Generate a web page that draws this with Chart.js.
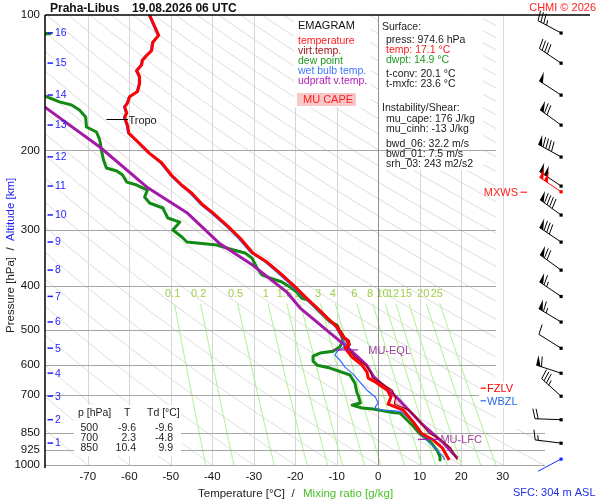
<!DOCTYPE html>
<html><head><meta charset="utf-8">
<script src="https://cdn.jsdelivr.net/npm/chart.js@4"></script>
<style>html,body{margin:0;padding:0;background:#fff;overflow:hidden}canvas{display:block}</style>
</head><body>
<canvas id="c" width="600" height="500"></canvas>
<script>
// ---------- DATA ----------
const station = 'Praha-Libus';
const runTime = '19.08.2026 06 UTC';
const xTicks = [-70,-60,-50,-40,-30,-20,-10,0,10,20,30];
const yTicks = [100,200,300,400,500,600,700,850,925,1000];
const isotherms = [-70,-60,-50,-40,-30,-20,-10,10,20,30];
const mixRatios = [0.1,0.2,0.5,1,1.5,2,3,4,6,8,10,12,15,20,25];
const kmH = [1,2,3,4,5,6,7,8,9,10,11,12,13,14,15,16];
const kmP = [894,793,703,625,550,481,422,368.8,319.5,278.2,239.9,206.7,175.6,150.6,127.9,109.6];

const tempP = [100,111,115,120,123,126,129,133,137,142,148,152,157,160,165,169,176,183,193,203,213,227,239,249,264,275,296,313,338,354,374,402,423,448,471,494,500,520,528,541,550,576,600,622,641,654,682,706,732,743,755,803,850,880,917,960,975];
const tempT = [-55.1,-52.9,-54.3,-54.6,-55.8,-56.8,-57.0,-58.2,-57.5,-57.5,-58.0,-59.9,-60.4,-61.1,-60.6,-61.1,-60.4,-60.1,-57.5,-55.1,-52.2,-49.8,-47.3,-44.9,-42.3,-39.9,-36.0,-33.3,-30.2,-26.8,-23.7,-20.0,-17.6,-14.7,-12.3,-9.9,-9.6,-8.5,-7.5,-7.2,-8.0,-6.3,-3.9,-2.7,-2.4,-0.7,2.2,3.1,2.4,4.1,6.0,8.5,10.4,13.3,15.5,16.7,17.1];
const virtT = [-55.1,-52.9,-54.3,-54.6,-55.8,-56.8,-57.0,-58.2,-57.5,-57.5,-58.0,-59.9,-60.4,-61.1,-60.6,-61.1,-60.4,-60.1,-57.5,-55.1,-52.2,-49.8,-47.3,-44.9,-42.3,-39.9,-36.0,-33.3,-30.2,-26.8,-23.7,-19.8,-17.4,-14.5,-12.0,-9.5,-9.2,-8.0,-7.0,-6.7,-7.4,-5.6,-3.0,-1.8,-1.4,0.4,3.4,4.2,3.9,5.6,7.5,10.2,12.2,15.2,17.5,18.7,19.1];

const dewP = [100,108,110,112,148,156,158.5,162.6,168.5,177.4,182,189.6,199.5,210,218.8,222.2,226.8,235.1,238.7,244.9,253.8,261.7,268.5,282.6,288.5,300.5,311.4,319.5,324.5,332,338,347,365,378,384,392,402,413,426,430,446,464,481,489,500,506,528,546,559,564,573,588,600,609,631,658,692,700,728,736,747,751,763,767,787,815,850,889,927,960,975];
const dewT = [-90,-90,-79,-90,-83,-76.8,-73.9,-72.0,-70.5,-70.3,-67.9,-67.1,-66.7,-66.2,-65.5,-63.0,-61.6,-60.6,-58.2,-55.6,-56.3,-55.1,-51.9,-50.7,-47.8,-49.5,-47.3,-46.1,-38.9,-35.3,-32.1,-30.4,-29.2,-28.0,-26.1,-23.2,-21.3,-19.6,-18.4,-16.9,-15.2,-13.3,-11.6,-9.9,-9.6,-9.2,-8.5,-9.2,-10.9,-14.0,-15.7,-15.7,-14.7,-11.6,-6.8,-5.6,-5.1,-4.8,-4.3,-6.3,-3.9,-1.2,2.9,5.3,6.5,8.2,9.9,12.6,14.2,14.9,14.9];

const wetP = [100,111,115,120,123,126,129,133,137,142,148,152,157,160,165,169,176,183,193,203,213,227,239,249,264,275,296,313,338,354,374,402,423,448,471,494,520,541,550,560,570,585,606,625,648,682,706,728,743,750,755,758,763,807,867,917,960,975];
const wetT = [-55.4,-53.2,-54.6,-54.9,-56.1,-57.1,-57.3,-58.5,-57.8,-57.8,-58.3,-60.2,-60.7,-61.4,-60.9,-61.4,-60.7,-60.4,-57.8,-55.4,-52.6,-50.2,-47.7,-45.4,-42.8,-40.4,-36.5,-33.8,-30.7,-27.3,-24.3,-20.6,-18.1,-15.2,-12.7,-10.3,-8.9,-7.7,-8.7,-10.0,-10.4,-9.2,-8.0,-6.3,-4.8,-2.7,-0.7,0.0,-0.7,-0.5,1.0,4.1,5.8,8.5,10.9,13.8,15.7,16.0];

const parcelP = [150,160,196.5,241,275,322,360,413,448,501,550,600,638,710,807,893,966];
const parcelT = [-83.5,-80.4,-67.1,-55.8,-46.1,-38.2,-30.2,-22.0,-18.8,-12.5,-7.2,-2.8,-1.0,4.6,10.3,15.7,19.1];

const windP = kmP;
const windDir = [277,272,312,288,302,301,304,306,304,306,304,299,306,303,304,298];
const windSpd = [15,20,35,60,10,65,65,70,80,90,100,90,70,50,40,35];
const sfcWindP = 970, sfcWindDir = 242;
const mxwsP = 247, mxwsDir = 304, mxwsSpd = 100;

const tropoP = 170, eqlP = 555, lfcP = 877, fzlvP = 675, wbzlP = 720;
const tabP = [500,700,850], tabT = [-9.6,2.3,10.4], tabTd = [-9.6,-4.8,9.9];
const sfcPress = 974.6, sfcTemp = 17.1, sfcDwpt = 14.9, tConv = 20.1, tMxfc = 23.6;
const muCape = 176, muCinh = -13, bwd06 = 32.2, bwd01 = 7.5, srh03 = 243, sfcHeight = 304;

// ---------- CHART ----------
const FONT = "'Liberation Sans', Arial, Helvetica, sans-serif";
Chart.defaults.font.family = FONT;
Chart.defaults.color = '#000';
const RED = '#ff0000', DRED = '#9a0000', GREEN = '#138a13', BLUE = '#2f6fff', PURPLE = '#a41aa8';
const pts = (P, T) => P.map((p, i) => ({x: T[i], y: p}));
const virtP = tempP;

function tdW(w, p) { const e = p * w / (622 + w); const l = Math.log(e / 6.112); return 243.5 * l / (17.67 - l); }
function interpT(P, T, p) {
  for (let i = 0; i < P.length - 1; i++) {
    if ((P[i] - p) * (P[i + 1] - p) <= 0) {
      const f = (Math.log(p) - Math.log(P[i])) / (Math.log(P[i + 1]) - Math.log(P[i]));
      return T[i] + f * (T[i + 1] - T[i]);
    }
  }
  return T[T.length - 1];
}

function drawBarb(c, x0, y0, dir, spd, color, feathers) {
  const L = 26, a = dir * Math.PI / 180;
  const sx = Math.sin(a), sy = -Math.cos(a);
  const px = -sy, py = sx;
  const x1 = x0 + sx * L, y1 = y0 + sy * L;
  c.strokeStyle = color; c.fillStyle = color; c.lineWidth = 1;
  c.beginPath(); c.moveTo(x0, y0); c.lineTo(x1, y1); c.stroke();
  c.fillRect(x0 - 1.5, y0 - 1.5, 3.2, 3.2);
  if (!feathers) return;
  let rem = Math.round(spd / 5) * 5, pos = 0;
  const at = d => [x1 - sx * d, y1 - sy * d];
  while (rem >= 50) {
    const [ax, ay] = at(pos), [bx, by] = at(pos + 4.5);
    c.beginPath(); c.moveTo(ax, ay); c.lineTo(ax + px * 10 + sx * 1, ay + py * 10 + sy * 1); c.lineTo(bx, by); c.closePath(); c.fill();
    pos += 5.5; rem -= 50;
  }
  while (rem >= 10) {
    const [ax, ay] = at(pos);
    c.beginPath(); c.moveTo(ax, ay); c.lineTo(ax + px * 10 + sx * 2.5, ay + py * 10 + sy * 2.5); c.stroke();
    pos += 3.2; rem -= 10;
  }
  if (rem >= 5) {
    if (pos === 0) pos = 3.2;
    const [ax, ay] = at(pos);
    c.beginPath(); c.moveTo(ax, ay); c.lineTo(ax + px * 5 + sx * 1.3, ay + py * 5 + sy * 1.3); c.stroke();
  }
}

const bgPlugin = {
  id: 'bg',
  beforeDraw(chart) { const c = chart.ctx; c.save(); c.fillStyle = '#fff'; c.fillRect(0, 0, chart.width, chart.height); c.restore(); },
  beforeDatasetsDraw(chart) {
    const c = chart.ctx, xs = chart.scales.x, ys = chart.scales.y, a = chart.chartArea;
    const X = v => xs.getPixelForValue(v), Y = v => ys.getPixelForValue(v);
    c.save();
    c.beginPath(); c.rect(a.left, a.top, a.right - a.left, a.bottom - a.top); c.clip();
    // dry adiabats
    c.strokeStyle = '#d8d8d8'; c.lineWidth = 0.9;
    for (let th = -80; th <= 340; th += 10) {
      c.beginPath();
      for (let p = 100; p <= 1000; p += 5) {
        const T = (th + 273.15) * Math.pow(p / 1000, 0.2857) - 273.15;
        if (p === 100) c.moveTo(X(T), Y(p)); else c.lineTo(X(T), Y(p));
      }
      c.stroke();
    }
    // isotherms
    c.strokeStyle = '#d6d6d6'; c.lineWidth = 1;
    for (const t of isotherms) { const px = Math.round(X(t)) + 0.5; c.beginPath(); c.moveTo(px, a.top); c.lineTo(px, a.bottom); c.stroke(); }
    // mixing ratio lines
    c.strokeStyle = '#aef08a'; c.lineWidth = 1;
    for (const w of mixRatios) {
      c.beginPath();
      for (let p = 438; p <= 1004; p += 6) { const T = tdW(w, p); if (p === 438) c.moveTo(X(T), Y(p)); else c.lineTo(X(T), Y(p)); }
      c.stroke();
    }
    c.fillStyle = '#9fd04a'; c.font = '11px ' + FONT; c.textAlign = 'center'; c.textBaseline = 'middle';
    for (const w of mixRatios) c.fillText(String(w), X(tdW(w, 417)), Y(417));
    c.restore();
    c.save();
    // white boxes
    const xCol = X(28.4);
    c.fillStyle = '#fff';
    c.fillRect(294, a.top + 0.5, 77, 92);
    c.fillRect(X(0) + 0.5, a.top + 0.5, 104.5, 155);
    c.fillRect(xCol, a.top + 0.5, chart.width - xCol, Y(830) - a.top);
    // isobars
    c.strokeStyle = '#a6a6a6'; c.lineWidth = 1;
    for (const p of yTicks) {
      if (p === 100) continue;
      const py = Math.round(Y(p)) + 0.5;
      c.beginPath(); c.moveTo(a.left, py); c.lineTo(p >= 850 ? a.right : xCol, py); c.stroke();
    }
    // 30 and 0 isotherms
    c.strokeStyle = '#dadada';
    let px = Math.round(X(30)) + 0.5; c.beginPath(); c.moveTo(px, a.top); c.lineTo(px, a.bottom); c.stroke();
    c.strokeStyle = '#8e8e8e';
    px = Math.round(X(0)) + 0.5; c.beginPath(); c.moveTo(px, a.top); c.lineTo(px, a.bottom); c.stroke();
    // table box
    c.fillStyle = '#fff'; c.fillRect(74, 405, 107, 51);
    // CAPE area
    const up = [], dn = [];
    up.push([interpT(virtP, virtT, eqlP), eqlP]);
    tempP.forEach((p, i) => { if (p > eqlP && p < lfcP) up.push([virtT[i], p]); });
    up.push([interpT(virtP, virtT, lfcP), lfcP]);
    dn.push([interpT(parcelP, parcelT, lfcP), lfcP]);
    for (let i = parcelP.length - 1; i >= 0; i--) if (parcelP[i] > eqlP && parcelP[i] < lfcP) dn.push([parcelT[i], parcelP[i]]);
    dn.push([interpT(parcelP, parcelT, eqlP), eqlP]);
    c.fillStyle = '#f8cccc';
    c.beginPath();
    up.concat(dn).forEach((q, i) => { if (i === 0) c.moveTo(X(q[0]), Y(q[1])); else c.lineTo(X(q[0]), Y(q[1])); });
    c.closePath(); c.fill();
    c.restore();
  }
};

const fgPlugin = {
  id: 'fg',
  afterDatasetsDraw(chart) {
    const c = chart.ctx, xs = chart.scales.x, ys = chart.scales.y, a = chart.chartArea;
    const X = v => xs.getPixelForValue(v), Y = v => ys.getPixelForValue(v);
    c.save();
    // frame
    c.strokeStyle = '#000'; c.lineWidth = 1.5;
    c.beginPath(); c.moveTo(a.left, a.top); c.lineTo(590, a.top); c.stroke();
    c.beginPath(); c.moveTo(a.left, a.top); c.lineTo(a.left, a.bottom + 3); c.stroke();
    // km scale
    c.strokeStyle = '#1f1fff'; c.fillStyle = '#1f1fff'; c.lineWidth = 1.5;
    c.font = '10.5px ' + FONT; c.textAlign = 'left'; c.textBaseline = 'middle';
    kmH.forEach((h, i) => {
      const py = Y(kmP[i]);
      c.beginPath(); c.moveTo(a.left + 2.5, py); c.lineTo(a.left + 8, py); c.stroke();
      c.fillText(String(h), a.left + 10, py + 0.5);
    });
    // tropopause
    c.strokeStyle = '#000'; c.lineWidth = 1; c.fillStyle = '#222';
    let py = Math.round(Y(tropoP)) + 0.5;
    c.beginPath(); c.moveTo(X(-65.5), py); c.lineTo(X(-60.3), py); c.stroke();
    c.font = '11px ' + FONT; c.fillText('Tropo', X(-60.2), py + 1);
    // EQL / LFC
    c.strokeStyle = PURPLE; c.fillStyle = '#a040a0'; c.lineWidth = 1.2;
    py = Y(eqlP); c.beginPath(); c.moveTo(X(-10.9), py); c.lineTo(X(-4.9), py); c.stroke();
    c.fillText('MU-EQL', X(-2.4), py + 1);
    py = Y(lfcP); c.beginPath(); c.moveTo(X(9.6), py); c.lineTo(X(14.9), py); c.stroke();
    c.fillText('MU-LFC', X(15.0), py + 1);
    // FZLV / WBZL
    c.fillStyle = '#fff'; c.fillRect(479, Y(fzlvP) - 6, 37, Y(wbzlP) - Y(fzlvP) + 13);
    c.lineWidth = 1.2;
    [[fzlvP, 'FZLV', RED], [wbzlP, 'WBZL', '#2a6ae8']].forEach(([p, t, col]) => {
      const yy = Y(p);
      c.strokeStyle = col; c.fillStyle = col;
      c.beginPath(); c.moveTo(480.5, yy); c.lineTo(486, yy); c.stroke();
      c.fillText(t, 487, yy + 1);
    });
    // legend
    c.font = '11px ' + FONT; c.fillStyle = '#111';
    c.fillText('EMAGRAM', 298, 26);
    c.font = '10.5px ' + FONT;
    [['temperature', '#ff1a1a'], ['virt.temp.', '#a01515'], ['dew point', '#1e9a1e'], ['wet bulb temp.', '#3a78ff'], ['udpraft v.temp.', '#b21db6']].forEach(([t, col], i) => {
      c.fillStyle = col; c.fillText(t, 298, 41.5 + i * 10);
    });
    c.fillStyle = '#f8c8c8'; c.fillRect(297, 93, 59, 13);
    c.fillStyle = '#ff2020'; c.font = '11px ' + FONT; c.fillText('MU CAPE', 303, 100);
    // info box
    c.font = '10.5px ' + FONT;
    const info = [
      ['Surface:', 382, 27, '#222'],
      ['press: ' + sfcPress.toFixed(1) + ' hPa', 386, 40, '#222'],
      ['temp: ' + sfcTemp.toFixed(1) + ' °C', 386, 50, '#ff1a1a'],
      ['dwpt: ' + sfcDwpt.toFixed(1) + ' °C', 386, 60, '#1e9a1e'],
      ['t-conv: ' + tConv.toFixed(1) + ' °C', 386, 74, '#222'],
      ['t-mxfc: ' + tMxfc.toFixed(1) + ' °C', 386, 84, '#222'],
      ['Instability/Shear:', 382, 108, '#222'],
      ['mu_cape: ' + muCape + ' J/kg', 386, 119, '#222'],
      ['mu_cinh: ' + muCinh + ' J/kg', 386, 129.5, '#222'],
      ['bwd_06: ' + bwd06.toFixed(1) + ' m/s', 386, 144.5, '#222'],
      ['bwd_01: ' + bwd01.toFixed(1) + ' m/s', 386, 154.5, '#222'],
      ['srh_03: ' + srh03 + ' m2/s2', 386, 164, '#222']
    ];
    info.forEach(([t, x, y, col]) => { c.fillStyle = col; c.fillText(t, x, y); });
    // table
    c.fillStyle = '#222';
    c.fillText('p [hPa]', 78, 413); c.fillText('T', 124, 413); c.fillText('Td [°C]', 147, 413);
    c.textAlign = 'right';
    tabP.forEach((p, i) => {
      const yy = 428 + i * 10.3;
      c.fillText(String(p), 98, yy); c.fillText(tabT[i].toFixed(1), 136, yy); c.fillText(tabTd[i].toFixed(1), 173, yy);
    });
    // wind barbs
    const bx = a.right + 16;
    windP.forEach((p, i) => drawBarb(c, bx, Y(p), windDir[i], windSpd[i], '#000', true));
    drawBarb(c, bx, Y(mxwsP), mxwsDir, mxwsSpd, '#ff0000', true);
    drawBarb(c, bx, Y(sfcWindP), sfcWindDir, 0, '#1030ff', false);
    c.fillStyle = '#ff2020'; c.strokeStyle = '#ff2020'; c.font = '11px ' + FONT; c.textAlign = 'right'; c.lineWidth = 1.2;
    py = Y(mxwsP) + 0.5;
    c.fillText('MXWS', 518, py + 1);
    c.beginPath(); c.moveTo(520.5, py); c.lineTo(527, py); c.stroke();
    // titles
    c.textAlign = 'left'; c.textBaseline = 'alphabetic';
    c.fillStyle = '#111'; c.font = 'bold 12px ' + FONT;
    c.fillText(station, 50, 12); c.fillText(runTime, 132, 12);
    c.fillStyle = '#ff2020'; c.font = '11px ' + FONT; c.textAlign = 'right';
    c.fillText('CHMI © 2026', 596, 11);
    c.textAlign = 'left'; c.font = '11.5px ' + FONT;
    c.fillStyle = '#222'; c.fillText('Temperature [°C]  /', 198, 497);
    c.fillStyle = '#48c02a'; c.fillText('Mixing ratio [g/kg]', 303, 497);
    c.fillStyle = '#2030e0'; c.font = '11px ' + FONT; c.fillText('SFC: ' + sfcHeight + ' m ASL', 513, 496);
    // rotated axis title
    c.save(); c.translate(14, 333); c.rotate(-Math.PI / 2); c.font = '11.5px ' + FONT;
    c.fillStyle = '#222'; const s1 = 'Pressure [hPa]  /  '; c.fillText(s1, 0, 0);
    c.fillStyle = '#2020ee'; c.fillText('Altitude [km]', c.measureText(s1).width, 0);
    c.restore();
    c.restore();
  }
};

const lineDs = (label, P, T, color, width) => ({
  label, data: pts(P, T), showLine: true, borderColor: color, backgroundColor: color,
  borderWidth: width, pointRadius: 0, tension: 0, borderJoinStyle: 'round', fill: false
});

new Chart(document.getElementById('c'), {
  type: 'scatter',
  data: { datasets: [
    lineDs('temperature', tempP, tempT, RED, 3),
    lineDs('virt.temp.', virtP, virtT, DRED, 1.2),
    lineDs('wet bulb temp.', wetP, wetT, BLUE, 1.2),
    lineDs('udpraft v.temp.', parcelP, parcelT, PURPLE, 3),
    lineDs('dew point', dewP, dewT, GREEN, 3)
  ]},
  options: {
    responsive: false, animation: false, devicePixelRatio: 1,
    layout: { padding: { top: 15, right: 55, left: 0, bottom: 0 } },
    plugins: { legend: { display: false }, tooltip: { enabled: false } },
    scales: {
      x: {
        type: 'linear', min: -80.3, max: 40.2,
        grid: { display: false, drawTicks: false }, border: { display: false },
        ticks: { padding: 5, font: { size: 11.5 }, color: '#111', maxRotation: 0, autoSkip: false },
        afterBuildTicks: s => { s.ticks = xTicks.map(v => ({ value: v })); },
        afterFit: s => { s.height = 35; }
      },
      y: {
        type: 'logarithmic', reverse: true, min: 100, max: 1000,
        grid: { display: false, drawTicks: false }, border: { display: false },
        ticks: { padding: 5, font: { size: 11.5 }, color: '#111', autoSkip: false, callback: v => String(v) },
        afterBuildTicks: s => { s.ticks = yTicks.map(v => ({ value: v })); },
        afterFit: s => { s.width = 45; }
      }
    }
  },
  plugins: [bgPlugin, fgPlugin]
});
</script>
</body></html>
